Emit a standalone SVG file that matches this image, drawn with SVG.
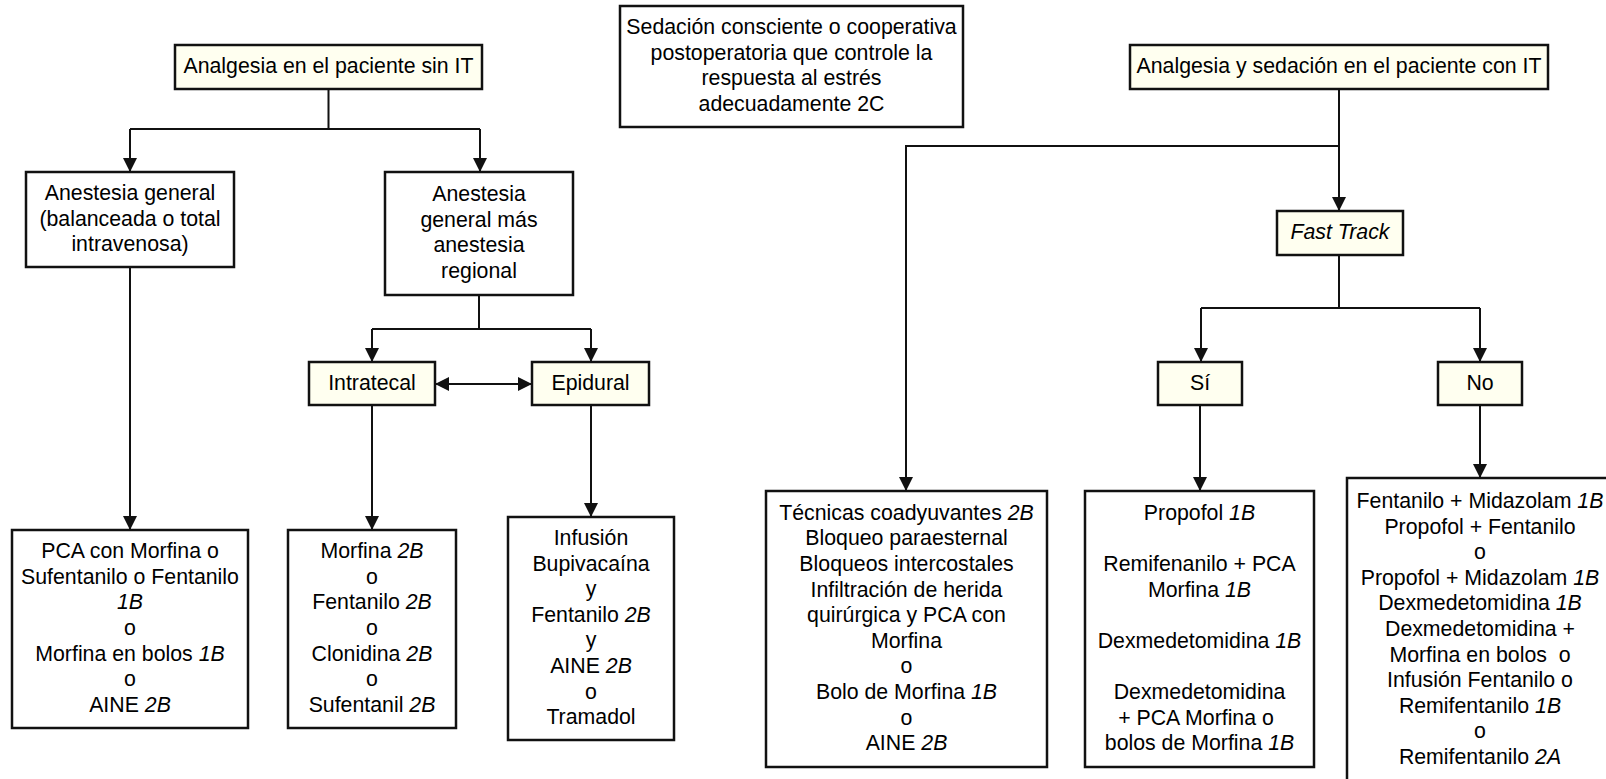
<svg xmlns="http://www.w3.org/2000/svg" width="1606" height="779" viewBox="0 0 1606 779">
<style>
.box{fill:#ffffff;stroke:#111;stroke-width:2.5}
.hl{fill:#fffff0;stroke:#111;stroke-width:2.5}
.t{font-family:"Liberation Sans",Arial,Helvetica,sans-serif;font-size:21.3px;fill:#000;text-anchor:middle}
.i{font-style:italic}
.c{fill:none;stroke:#111;stroke-width:2}
</style>
<defs>
<marker id="ar" markerUnits="userSpaceOnUse" markerWidth="15" markerHeight="15" refX="14" refY="7" orient="auto-start-reverse">
<path d="M0,0 L14,7 L0,14 Z" fill="#111"/>
</marker>
</defs>
<rect width="1606" height="779" fill="#fff"/>

<g id="connectors">
<path class="c" d="M328.5,89 V129 M130,129 H480"/>
<path class="c" d="M130,129 V172" marker-end="url(#ar)"/>
<path class="c" d="M480,129 V172" marker-end="url(#ar)"/>
<path class="c" d="M130,267 V530" marker-end="url(#ar)"/>
<path class="c" d="M479,295 V329 M372,329 H591"/>
<path class="c" d="M372,329 V362" marker-end="url(#ar)"/>
<path class="c" d="M591,329 V362" marker-end="url(#ar)"/>
<path class="c" d="M435,384 H532" marker-start="url(#ar)" marker-end="url(#ar)"/>
<path class="c" d="M372,405 V530" marker-end="url(#ar)"/>
<path class="c" d="M591,405 V517" marker-end="url(#ar)"/>
<path class="c" d="M1339,89 V211" marker-end="url(#ar)"/>
<path class="c" d="M1340,146 H906 V491" marker-end="url(#ar)"/>
<path class="c" d="M1339,255 V308 M1201,308 H1480"/>
<path class="c" d="M1201,308 V362" marker-end="url(#ar)"/>
<path class="c" d="M1480,308 V362" marker-end="url(#ar)"/>
<path class="c" d="M1200,405 V491" marker-end="url(#ar)"/>
<path class="c" d="M1480,405 V478" marker-end="url(#ar)"/>
</g>

<g id="n-sin-it">
<rect class="hl" x="175" y="45" width="307" height="44"/>
<text class="t" x="328.5" y="73">Analgesia en el paciente sin IT</text>
</g>

<g id="n-sedacion">
<rect class="box" x="620" y="6" width="343" height="121"/>
<text class="t" x="791.5" y="34">Sedación consciente o cooperativa</text>
<text class="t" x="791.5" y="59.6">postoperatoria que controle la</text>
<text class="t" x="791.5" y="85.2">respuesta al estrés</text>
<text class="t" x="791.5" y="110.8">adecuadamente 2C</text>
</g>

<g id="n-con-it">
<rect class="hl" x="1130" y="45" width="418" height="44"/>
<text class="t" x="1339" y="73">Analgesia y sedación en el paciente con IT</text>
</g>

<g id="n-general">
<rect class="box" x="26" y="172" width="208" height="95"/>
<text class="t" x="130" y="199.9">Anestesia general</text>
<text class="t" x="130" y="225.5">(balanceada o total</text>
<text class="t" x="130" y="251.1">intravenosa)</text>
</g>

<g id="n-general-regional">
<rect class="box" x="385" y="172" width="188" height="123"/>
<text class="t" x="479" y="201.1">Anestesia</text>
<text class="t" x="479" y="226.7">general más</text>
<text class="t" x="479" y="252.3">anestesia</text>
<text class="t" x="479" y="277.9">regional</text>
</g>

<g id="n-intratecal">
<rect class="hl" x="309" y="362" width="126" height="43"/>
<text class="t" x="372" y="389.5">Intratecal</text>
</g>

<g id="n-epidural">
<rect class="hl" x="532" y="362" width="117" height="43"/>
<text class="t" x="590.5" y="389.5">Epidural</text>
</g>

<g id="n-fasttrack">
<rect class="hl" x="1277" y="211" width="126" height="44"/>
<text class="t i" x="1340" y="239">Fast Track</text>
</g>

<g id="n-si">
<rect class="hl" x="1158" y="362" width="84" height="43"/>
<text class="t" x="1200" y="389.5">Sí</text>
</g>

<g id="n-no">
<rect class="hl" x="1438" y="362" width="84" height="43"/>
<text class="t" x="1480" y="389.5">No</text>
</g>

<g id="n-pca">
<rect class="box" x="12" y="530" width="236" height="198"/>
<text class="t" x="130" y="558.2">PCA con Morfina o</text>
<text class="t" x="130" y="583.8">Sufentanilo o Fentanilo</text>
<text class="t i" x="130" y="609.4">1B</text>
<text class="t" x="130" y="635">o</text>
<text class="t" x="130" y="660.6">Morfina en bolos <tspan class="i">1B</tspan></text>
<text class="t" x="130" y="686.2">o</text>
<text class="t" x="130" y="711.8">AINE <tspan class="i">2B</tspan></text>
</g>

<g id="n-morfina">
<rect class="box" x="288" y="530" width="168" height="198"/>
<text class="t" x="372" y="558.2">Morfina <tspan class="i">2B</tspan></text>
<text class="t" x="372" y="583.8">o</text>
<text class="t" x="372" y="609.4">Fentanilo <tspan class="i">2B</tspan></text>
<text class="t" x="372" y="635">o</text>
<text class="t" x="372" y="660.6">Clonidina <tspan class="i">2B</tspan></text>
<text class="t" x="372" y="686.2">o</text>
<text class="t" x="372" y="711.8">Sufentanil <tspan class="i">2B</tspan></text>
</g>

<g id="n-infusion">
<rect class="box" x="508" y="517" width="166" height="223"/>
<text class="t" x="591" y="544.9">Infusión</text>
<text class="t" x="591" y="570.5">Bupivacaína</text>
<text class="t" x="591" y="596.1">y</text>
<text class="t" x="591" y="621.7">Fentanilo <tspan class="i">2B</tspan></text>
<text class="t" x="591" y="647.3">y</text>
<text class="t" x="591" y="672.9">AINE <tspan class="i">2B</tspan></text>
<text class="t" x="591" y="698.5">o</text>
<text class="t" x="591" y="724.1">Tramadol</text>
</g>

<g id="n-tecnicas">
<rect class="box" x="766" y="491" width="281" height="276"/>
<text class="t" x="906.5" y="519.8">Técnicas coadyuvantes <tspan class="i">2B</tspan></text>
<text class="t" x="906.5" y="545.4">Bloqueo paraesternal</text>
<text class="t" x="906.5" y="571">Bloqueos intercostales</text>
<text class="t" x="906.5" y="596.6">Infiltración de herida</text>
<text class="t" x="906.5" y="622.2">quirúrgica y PCA con</text>
<text class="t" x="906.5" y="647.8">Morfina</text>
<text class="t" x="906.5" y="673.4">o</text>
<text class="t" x="906.5" y="699">Bolo de Morfina <tspan class="i">1B</tspan></text>
<text class="t" x="906.5" y="724.6">o</text>
<text class="t" x="906.5" y="750.2">AINE <tspan class="i">2B</tspan></text>
</g>

<g id="n-propofol">
<rect class="box" x="1085" y="491" width="229" height="276"/>
<text class="t" x="1199.5" y="519.8">Propofol <tspan class="i">1B</tspan></text>
<text class="t" x="1199.5" y="571">Remifenanilo + PCA</text>
<text class="t" x="1199.5" y="596.6">Morfina <tspan class="i">1B</tspan></text>
<text class="t" x="1199.5" y="647.8">Dexmedetomidina <tspan class="i">1B</tspan></text>
<text class="t" x="1199.5" y="699">Dexmedetomidina</text>
<text class="t" x="1196" y="724.6">+ PCA Morfina o</text>
<text class="t" x="1199.5" y="750.2">bolos de Morfina <tspan class="i">1B</tspan></text>
</g>

<g id="n-no-fast">
<rect class="box" x="1347" y="478" width="268" height="320"/>
<text class="t" x="1480" y="508">Fentanilo + Midazolam <tspan class="i">1B</tspan></text>
<text class="t" x="1480" y="533.6">Propofol + Fentanilo</text>
<text class="t" x="1480" y="559.2">o</text>
<text class="t" x="1480" y="584.8">Propofol + Midazolam <tspan class="i">1B</tspan></text>
<text class="t" x="1480" y="610.4">Dexmedetomidina <tspan class="i">1B</tspan></text>
<text class="t" x="1480" y="636">Dexmedetomidina +</text>
<text class="t" x="1480" y="661.6" style="white-space:pre">Morfina en bolos  o</text>
<text class="t" x="1480" y="687.2">Infusión Fentanilo o</text>
<text class="t" x="1480" y="712.8">Remifentanilo <tspan class="i">1B</tspan></text>
<text class="t" x="1480" y="738.4">o</text>
<text class="t" x="1480" y="764">Remifentanilo <tspan class="i">2A</tspan></text>
</g>
</svg>
